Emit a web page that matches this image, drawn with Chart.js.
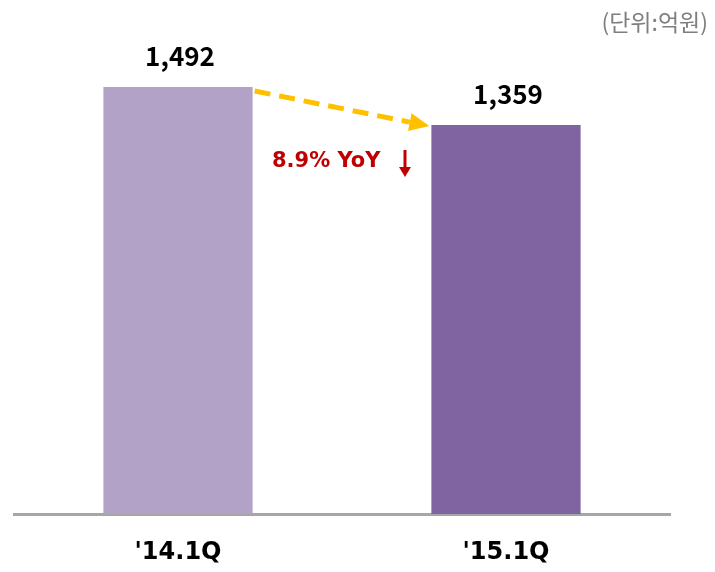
<!DOCTYPE html>
<html>
<head>
<meta charset="utf-8">
<script src="https://cdn.jsdelivr.net/npm/chart.js@4"></script>
<style>
  html, body { margin: 0; padding: 0; background: #fff; }
  #wrap { width: 715px; height: 572px; position: relative; }
</style>
</head>
<body>
<div id="wrap"><canvas id="salesChart"></canvas></div>
<script>
// data
const quarters = ["'14.1Q", "'15.1Q"];
const sales = [1492, 1359];
const barColors = ['#B3A2C7', '#8064A2'];
const unitLabel = '(단위:억원)';
const changeLabel = '8.9% YoY';

const FONT = "'Noto Sans CJK KR', 'DejaVu Sans', sans-serif";
const WIDE = "'DejaVu Sans', sans-serif";

// value labels, dashed yellow arrow, YoY note
const overlay = {
    id: 'overlay',
    afterDatasetsDraw(chart) {
        const ctx = chart.ctx;
        const bars = chart.getDatasetMeta(0).data;

        ctx.save();
        ctx.font = 'bold 26px ' + FONT;
        ctx.fillStyle = '#000';
        ctx.textAlign = 'center';
        ctx.textBaseline = 'bottom';
        bars.forEach((b, i) => {
            ctx.fillText(sales[i].toLocaleString('en-US'), b.x + 2, b.y - 18);
        });

        // arrow from top-right of first bar to top-left of second
        const a = bars[0], c = bars[1];
        const x0 = a.x + a.width / 2 + 2, y0 = a.y + 4;
        const x1 = c.x - c.width / 2 - 2, y1 = c.y + 1;
        const ang = Math.atan2(y1 - y0, x1 - x0);
        const headLen = 20;
        const hx = x1 - headLen * Math.cos(ang), hy = y1 - headLen * Math.sin(ang);
        ctx.strokeStyle = '#FFC000';
        ctx.lineWidth = 5;
        ctx.setLineDash([16, 9]);
        ctx.beginPath();
        ctx.moveTo(x0, y0);
        ctx.lineTo(hx, hy);
        ctx.stroke();
        ctx.setLineDash([]);
        ctx.fillStyle = '#FFC000';
        ctx.beginPath();
        ctx.moveTo(x1, y1);
        ctx.lineTo(hx + 9 * Math.sin(ang), hy - 9 * Math.cos(ang));
        ctx.lineTo(hx - 9 * Math.sin(ang), hy + 9 * Math.cos(ang));
        ctx.closePath();
        ctx.fill();

        // YoY note
        ctx.font = 'bold 21px ' + WIDE;
        ctx.fillStyle = '#C00000';
        ctx.textAlign = 'left';
        ctx.textBaseline = 'middle';
        ctx.fillText(changeLabel, 272, 162);
        ctx.strokeStyle = '#C00000';
        ctx.lineWidth = 3;
        ctx.beginPath();
        ctx.moveTo(405, 150);
        ctx.lineTo(405, 172);
        ctx.stroke();
        ctx.beginPath();
        ctx.moveTo(399, 167);
        ctx.lineTo(405, 177);
        ctx.lineTo(411, 167);
        ctx.closePath();
        ctx.fillStyle = '#C00000';
        ctx.fill();

        // unit
        ctx.font = '23px ' + FONT;
        ctx.fillStyle = '#7F7F7F';
        ctx.textAlign = 'right';
        ctx.fillText(unitLabel, 708, 22);
        ctx.restore();
    }
};

new Chart(document.getElementById('salesChart'), {
    type: 'bar',
    data: {
        labels: quarters,
        datasets: [{
            data: sales,
            backgroundColor: barColors,
            barPercentage: 0.455,
            categoryPercentage: 1
        }]
    },
    options: {
        responsive: true,
        maintainAspectRatio: false,
        animation: false,
        layout: { padding: { left: 14, right: 45, top: 0, bottom: 0 } },
        plugins: {
            legend: { display: false },
            tooltip: { enabled: false }
        },
        scales: {
            x: {
                grid: { display: false, drawTicks: false },
                border: { display: true, color: '#A6A6A6', width: 3 },
                ticks: {
                    color: '#000',
                    padding: 24,
                    font: { family: WIDE, size: 24, weight: 'bold' }
                },
                afterFit(scale) { scale.height = 58; }
            },
            y: {
                display: false,
                min: 0,
                max: 1796
            }
        }
    },
    plugins: [overlay]
});
</script>
</body>
</html>
